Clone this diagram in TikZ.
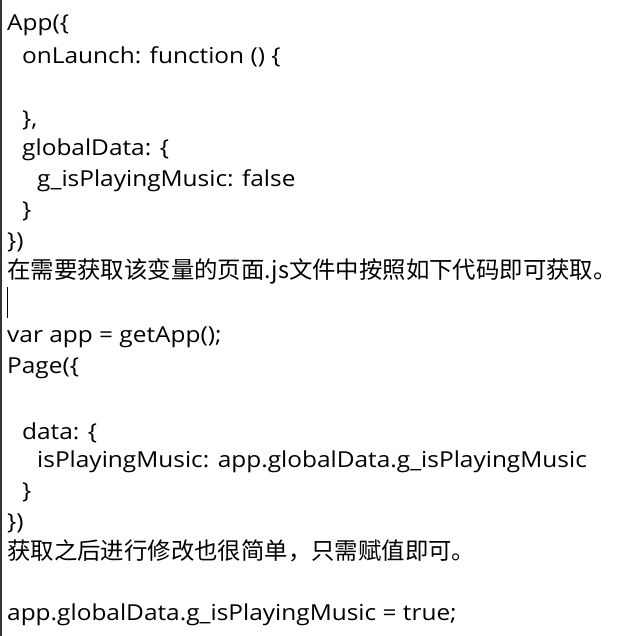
\documentclass[tikz,border=0pt]{standalone}
\usepackage{fontspec}
\setmainfont{Open Sans}[FakeStretch=1.11]
\newfontfamily\cjk{Noto Sans CJK SC}
\usetikzlibrary{calc}

\begin{document}
\begin{tikzpicture}[x=1pt, y=-1pt,
    code/.style={anchor=base west, inner sep=0pt, font=\fontsize{22}{26}\selectfont},
    note/.style={anchor=base west, inner sep=0pt, font=\cjk\fontsize{23.4}{28}\selectfont}]

    \useasboundingbox (0,0) rectangle (617,636);
    \fill[white] (0,0) rectangle (617,636);
    \fill[black!80] (0,0) rectangle (2,636);

    % App
    \node[code] (app) at (7,31) {App(\{};
    \node[code] (launch) at (22,64) {onLaunch: function () \{};
    \node[code] (launchend) at (22,127) {\},};
    \node[code] (global) at (22,156) {globalData: \{};
    \node[code] (gmusic) at (37,186) {g\_isPlayingMusic: false};
    \node[code] (globalend) at (22,217) {\}};
    \node[code] (append) at (7,248) {\})};

    \node[note] (note1) at (7,278) {在需要获取该变量的页面.js文件中按照如下代码即可获取。};

    % cursor
    \coordinate (ctop) at (7.5,287);
    \coordinate (cbot) at (7.5,318);
    \draw[line width=1pt] (ctop) -- (cbot);

    % Page
    \node[code] (getapp) at (7,342) {var app = getApp();};
    \node[code] (page) at (7,373) {Page(\{};
    \node[code] (data) at (22,439) {data: \{};
    \node[code] (music) at (37,467) {isPlayingMusic: app.globalData.g\_isPlayingMusic};
    \node[code] (dataend) at (22,498) {\}};
    \node[code] (pageend) at (7,529) {\})};

    \node[note] (note2) at (7,559) {获取之后进行修改也很简单，只需赋值即可。};

    \node[code] (assign) at (7,620) {app.globalData.g\_isPlayingMusic = true;};

\end{tikzpicture}
\end{document}
